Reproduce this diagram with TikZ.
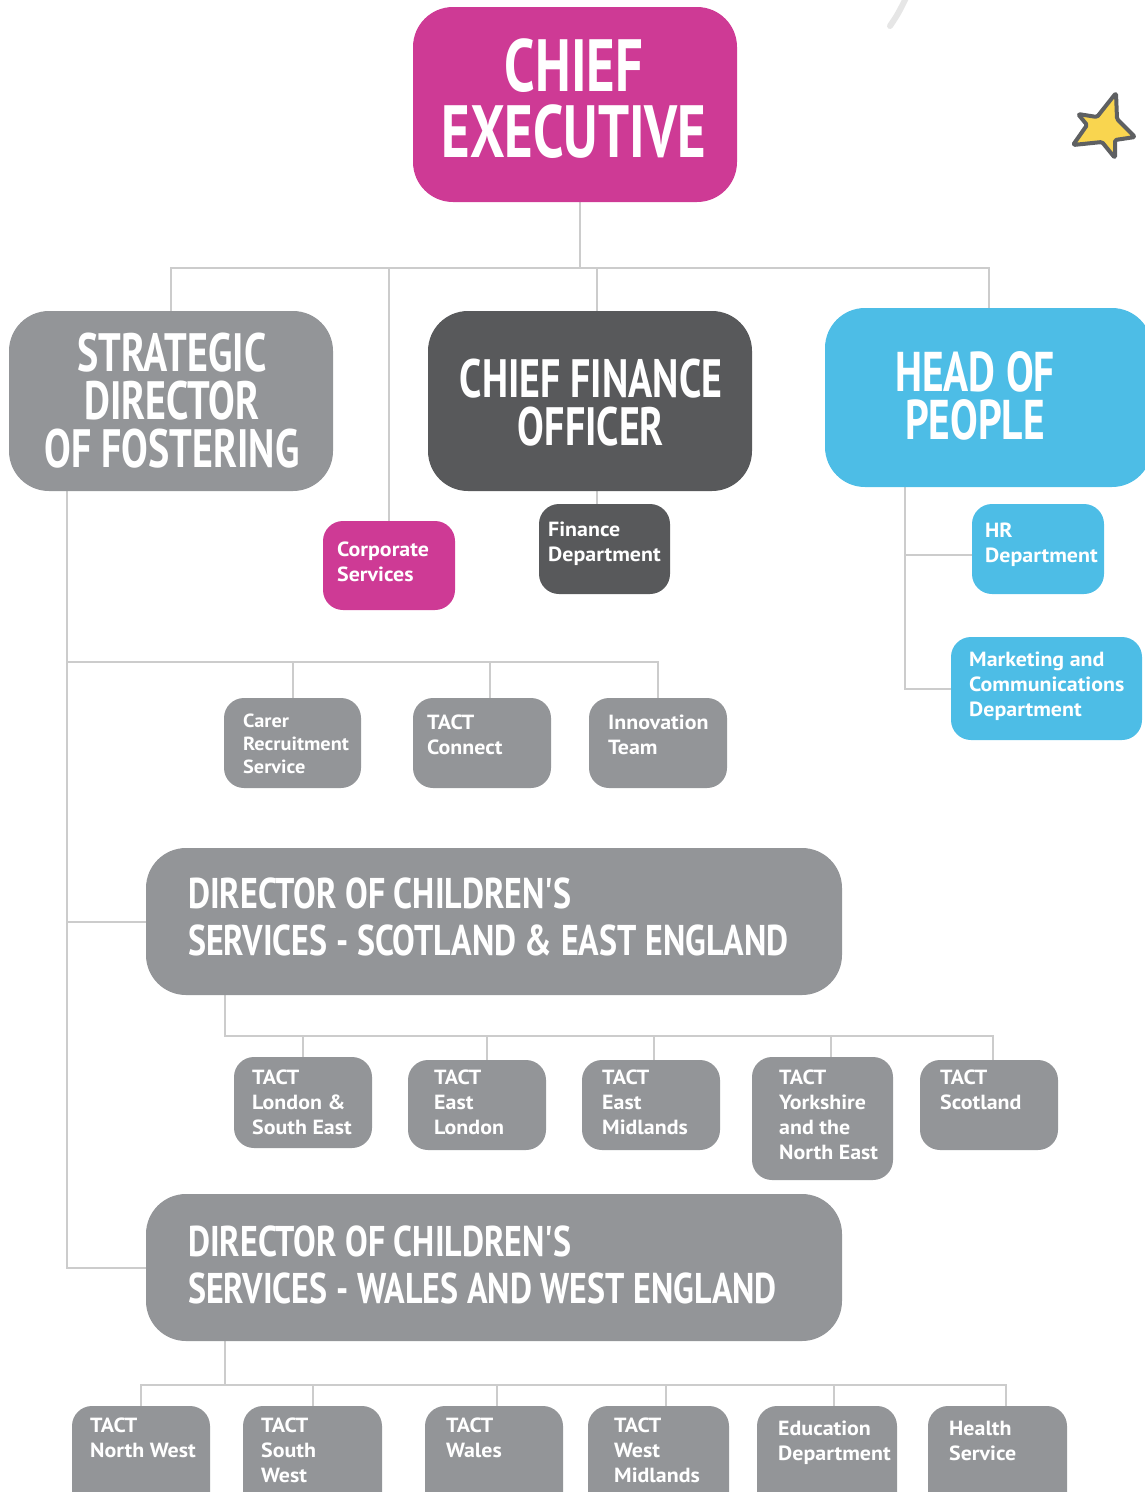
\documentclass[tikz,border=0pt]{standalone}
\usepackage{fontspec}
\setmainfont[FakeStretch=1.07]{PT Sans}
\newfontfamily\handfont[FakeStretch=0.74]{PT Sans}
\newfontfamily\handwide[FakeStretch=0.79]{PT Sans}
\usetikzlibrary{calc}
\pgfdeclarelayer{bg}
\pgfsetlayers{bg,main}
\definecolor{tmag}{HTML}{CE3A95}
\definecolor{tgray}{HTML}{939598}
\definecolor{tdark}{HTML}{58595B}
\definecolor{tcyan}{HTML}{4DBDE6}
\definecolor{tline}{HTML}{CCCCCC}
\definecolor{tstar}{HTML}{F9D54F}
\definecolor{tstarline}{HTML}{5E6062}
\definecolor{tscrib}{HTML}{E6E6E6}
\newcommand\obox[6]{%
  \node[#2, minimum width={#5-#3}, minimum height={#6-#4}] (#1) at ({(#3+#5)/2},{(#4+#6)/2}) {};}
\begin{document}
\begin{tikzpicture}[x=1pt,y=-1pt,
  bigbox/.style={rectangle, rounded corners=40pt, inner sep=0pt, draw=none},
  smallbox/.style={rectangle, rounded corners=20pt, inner sep=0pt, draw=none, fill=tgray},
  link/.style={draw=tline, line width=2pt},
  btxt/.style={text=white, font=\fontsize{20.5}{25}\selectfont\bfseries, align=left, inner sep=0pt, anchor=base west},
  htxt/.style={text=white, inner sep=0pt},
]
\useasboundingbox (0,0) rectangle (1145,1492);
\clip (0,0) rectangle (1145,1492);

% decorations
\draw[tscrib, line width=6pt, line cap=round] (890,26) .. controls (898,14) .. (907,-4);
\draw[tstarline, fill=tstar, line width=4pt, line join=round, rounded corners=1.5pt]
  (1116,93) -- (1117,119) -- (1135,137) -- (1115,140) -- (1115,158) -- (1102,142)
  -- (1073,145) -- (1087,125) -- (1078,114) -- (1097,117) -- cycle;

% coordinates for connector routes
\coordinate (busTop) at (580,268);
\coordinate (cfoX) at (597,0);
\coordinate (hrX) at (905,555);
\coordinate (spineX) at (67,0);
\coordinate (busA) at (0,662);
\coordinate (busB) at (0,1036);
\coordinate (busC) at (0,1385);
\coordinate (dirX) at (225,0);

% boxes
\obox{ce}{bigbox, fill=tmag}{413}{7}{737}{202}
\obox{sdf}{bigbox, fill=tgray}{9}{311}{333}{491}
\obox{cfo}{bigbox, fill=tdark}{428}{311}{752}{491}
\obox{hop}{bigbox, fill=tcyan}{825}{308}{1152}{487}
\obox{corp}{smallbox, fill=tmag}{323}{521}{455}{610}
\obox{fin}{smallbox, fill=tdark}{539}{504}{670}{594}
\obox{hr}{smallbox, fill=tcyan}{972}{504}{1104}{594}
\obox{mkt}{smallbox, fill=tcyan}{951}{637}{1142}{740}
\obox{carer}{smallbox}{224}{698}{361}{788}
\obox{tconn}{smallbox}{413}{698}{551}{788}
\obox{innov}{smallbox}{589}{698}{727}{788}
\obox{dse}{bigbox, fill=tgray}{146}{848}{842}{995}
\obox{lse}{smallbox}{234}{1057}{372}{1148}
\obox{el}{smallbox}{408}{1060}{546}{1150}
\obox{em}{smallbox}{582}{1060}{720}{1150}
\obox{yne}{smallbox}{752}{1057}{893}{1180}
\obox{scot}{smallbox}{920}{1060}{1058}{1150}
\obox{dww}{bigbox, fill=tgray}{146}{1194}{842}{1341}
\obox{nw}{smallbox}{72}{1406}{210}{1520}
\obox{sw}{smallbox}{243}{1406}{382}{1520}
\obox{wal}{smallbox}{425}{1406}{563}{1520}
\obox{wm}{smallbox}{588}{1406}{729}{1520}
\obox{edu}{smallbox}{757}{1406}{897}{1520}
\obox{hea}{smallbox}{928}{1406}{1067}{1520}

% connectors (behind the boxes)
\begin{pgfonlayer}{bg}
\draw[link] (busTop |- ce.south) -- (busTop);
\draw[link] (sdf.north) |- (busTop) -| (hop.north);
\draw[link] (corp.north) -- (corp.north |- busTop);
\draw[link] (cfoX |- busTop) -- (cfoX |- fin.north);
\draw[link] (hrX |- hop.south) |- (mkt.west);
\draw[link] (hrX) -- (hrX -| hr.west);
\draw[link] (spineX |- sdf.south) |- (dww.west);
\draw[link] (spineX |- dse.west) -- (dse.west);
\draw[link] (spineX |- busA) -| (innov.north);
\draw[link] (carer.north) -- (carer.north |- busA);
\draw[link] ($(tconn.north)+(8,0)$) -- ($(tconn.north |- busA)+(8,0)$);
\draw[link] (dirX |- dse.south) |- ($(busB -| scot.north)+(4,0)$) -- ($(scot.north)+(4,0)$);
\draw[link] (lse.north) -- (lse.north |- busB);
\draw[link] ($(el.north)+(10,0)$) -- ($(el.north |- busB)+(10,0)$);
\draw[link] ($(em.north)+(3,0)$) -- ($(em.north |- busB)+(3,0)$);
\draw[link] ($(yne.north)+(8,0)$) -- ($(yne.north |- busB)+(8,0)$);
\draw[link] (dirX |- dww.south) -- (dirX |- busC);
\draw[link] (nw.north) |- ($(busC -| hea.north)+(8,0)$) -- ($(hea.north)+(8,0)$);
\draw[link] (sw.north) -- (sw.north |- busC);
\draw[link] ($(wal.north)+(3,0)$) -- ($(wal.north |- busC)+(3,0)$);
\draw[link] ($(wm.north)+(7,0)$) -- ($(wm.north |- busC)+(7,0)$);
\draw[link] ($(edu.north)+(7,0)$) -- ($(edu.north |- busC)+(7,0)$);
\end{pgfonlayer}

% header texts
\node[htxt, align=center, font=\handfont\bfseries\fontsize{74}{66}\selectfont] (cet) at (574,99) {CHIEF\\EXECUTIVE};
\node[htxt, align=center, font=\handfont\bfseries\fontsize{54}{48}\selectfont] (sdft) at (172,401) {STRATEGIC\\DIRECTOR\\OF FOSTERING};
\node[htxt, align=center, font=\handfont\bfseries\fontsize{54}{48}\selectfont] (cfot) at (591,403) {CHIEF FINANCE\\OFFICER};
\node[htxt, align=center, font=\handfont\bfseries\fontsize{56}{48}\selectfont] (hopt) at (975,396) {HEAD OF\\PEOPLE};
\node[htxt, align=left, anchor=base west, font=\handwide\bfseries\fontsize{43}{47}\selectfont] (dset) at (188,955) {DIRECTOR OF CHILDREN'S\\SERVICES - SCOTLAND \& EAST ENGLAND};
\node[htxt, align=left, anchor=base west, font=\handwide\bfseries\fontsize{43}{47}\selectfont] (dwwt) at (188,1303) {DIRECTOR OF CHILDREN'S\\SERVICES - WALES AND WEST ENGLAND};

% small box texts (anchor = baseline of the last line)
\node[btxt] (corpt) at (337,581) {Corporate\\Services};
\node[btxt] (fint) at (548,561) {Finance\\Department};
\node[btxt] (hrt) at (985,562) {HR\\Department};
\node[btxt] (mktt) at (969,716) {Marketing and\\Communications\\Department};
\node[btxt, font=\fontsize{19}{23}\selectfont\bfseries] (carert) at (243,773) {Carer\\Recruitment\\Service};
\node[btxt] (tconnt) at (427,754) {TACT\\Connect};
\node[btxt] (innovt) at (608,754) {Innovation\\Team};
\node[btxt] (lset) at (252,1134) {TACT\\London \&\\South East};
\node[btxt] (elt) at (434,1134) {TACT\\East\\London};
\node[btxt] (emt) at (602,1134) {TACT\\East\\Midlands};
\node[btxt] (ynet) at (779,1159) {TACT\\Yorkshire\\and the\\North East};
\node[btxt] (scott) at (940,1109) {TACT\\Scotland};
\node[btxt] (nwt) at (90,1457) {TACT\\North West};
\node[btxt] (swt) at (261,1482) {TACT\\South\\West};
\node[btxt] (walt) at (446,1457) {TACT\\Wales};
\node[btxt] (wmt) at (614,1482) {TACT\\West\\Midlands};
\node[btxt] (edut) at (778,1460) {Education\\Department};
\node[btxt] (heat) at (949,1460) {Health\\Service};
\end{tikzpicture}
\end{document}
